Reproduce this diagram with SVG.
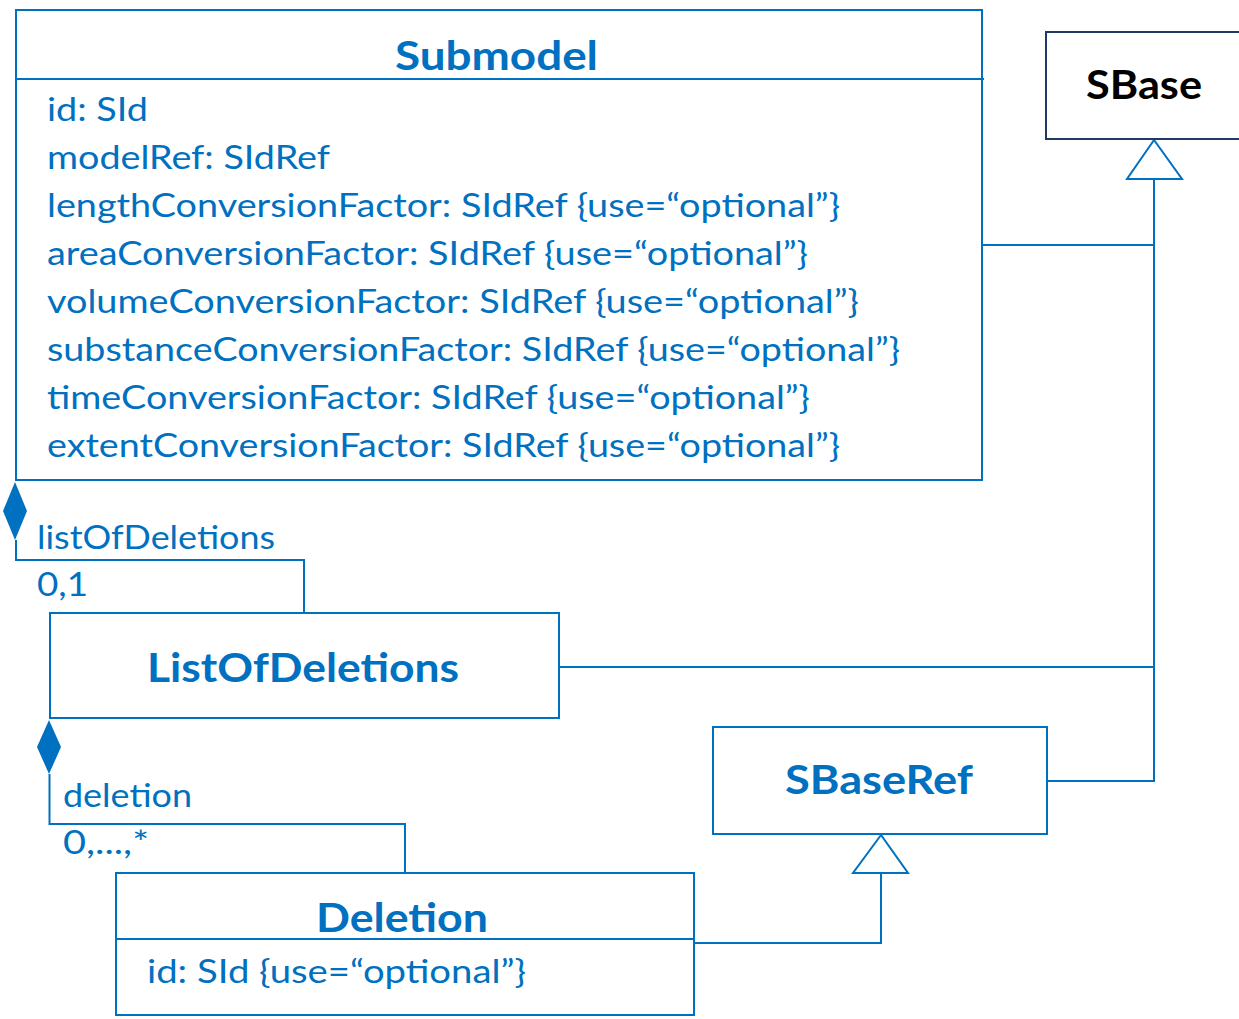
<svg xmlns="http://www.w3.org/2000/svg" width="1239" height="1019" viewBox="0 0 1239 1019">
<style>
.box{fill:#fff;stroke:#0070C0;stroke-width:2}
.line{fill:none;stroke:#0070C0;stroke-width:2}
.gen{fill:#fff;stroke:#0070C0;stroke-width:2}
.comp{fill:#0070C0}
.title{font-family:Lato,"Open Sans",sans-serif;font-weight:bold;fill:#0070C0;font-size:40px}
.attr{font-family:Lato,"Open Sans",sans-serif;fill:#0070C0;font-size:33px}
</style>
<g id="connectors">
  <polyline class="line" points="982,245 1154,245"/>
  <polyline class="line" points="560,667 1154,667"/>
  <polyline class="line" points="1047,781 1154,781 1154,179"/>
  <polygon class="gen" points="1154,140 1127,179 1182,179"/>
  <polyline class="line" points="694,943 881,943 881,873"/>
  <polygon class="gen" points="881,835 853,873 908,873"/>
  <polyline class="line" points="16,540 16,560 304,560 304,613"/>
  <polygon class="comp" points="15,482 27,511 15,540 3,511"/>
  <text class="attr" x="37" y="549" textLength="238" lengthAdjust="spacingAndGlyphs">listOfDeletions</text>
  <text class="attr" x="37" y="596" textLength="51" lengthAdjust="spacingAndGlyphs">0,1</text>
  <polyline class="line" points="49.5,774 49.5,824 405,824 405,873"/>
  <polygon class="comp" points="49,720 61,747 49,774 37,747"/>
  <text class="attr" x="63" y="807" textLength="129" lengthAdjust="spacingAndGlyphs">deletion</text>
  <text class="attr" x="63" y="854" textLength="86" lengthAdjust="spacingAndGlyphs">0,...,*</text>
</g>
<g id="Submodel">
  <rect class="box" x="16" y="10" width="966" height="470"/>
  <line class="line" x1="16" y1="79" x2="984" y2="79"/>
  <text class="title" x="395" y="70" textLength="203" lengthAdjust="spacingAndGlyphs">Submodel</text>
  <text class="attr" x="47" y="121" textLength="101" lengthAdjust="spacingAndGlyphs">id: SId</text>
  <text class="attr" x="47" y="169" textLength="283" lengthAdjust="spacingAndGlyphs">modelRef: SIdRef</text>
  <text class="attr" x="47" y="217" textLength="793" lengthAdjust="spacingAndGlyphs">lengthConversionFactor: SIdRef {use=“optional”}</text>
  <text class="attr" x="47" y="265" textLength="761" lengthAdjust="spacingAndGlyphs">areaConversionFactor: SIdRef {use=“optional”}</text>
  <text class="attr" x="47" y="313" textLength="812" lengthAdjust="spacingAndGlyphs">volumeConversionFactor: SIdRef {use=“optional”}</text>
  <text class="attr" x="47" y="361" textLength="853" lengthAdjust="spacingAndGlyphs">substanceConversionFactor: SIdRef {use=“optional”}</text>
  <text class="attr" x="47" y="409" textLength="763" lengthAdjust="spacingAndGlyphs">timeConversionFactor: SIdRef {use=“optional”}</text>
  <text class="attr" x="47" y="457" textLength="793" lengthAdjust="spacingAndGlyphs">extentConversionFactor: SIdRef {use=“optional”}</text>
</g>
<g id="SBase">
  <rect x="1046" y="32" width="200" height="107" fill="#fff" stroke="#203864" stroke-width="2"/>
  <text class="title" x="1086" y="99" textLength="116" lengthAdjust="spacingAndGlyphs" style="fill:#000">SBase</text>
</g>
<g id="ListOfDeletions">
  <rect class="box" x="50" y="613" width="509" height="105"/>
  <text class="title" x="147" y="682" textLength="312" lengthAdjust="spacingAndGlyphs">ListOfDeletions</text>
</g>
<g id="SBaseRef">
  <rect class="box" x="713" y="727" width="334" height="107"/>
  <text class="title" x="785" y="794" textLength="188" lengthAdjust="spacingAndGlyphs">SBaseRef</text>
</g>
<g id="Deletion">
  <rect class="box" x="116" y="873" width="578" height="142"/>
  <line class="line" x1="116" y1="939" x2="694" y2="939"/>
  <text class="title" x="316" y="932" textLength="172" lengthAdjust="spacingAndGlyphs">Deletion</text>
  <text class="attr" x="147" y="983" textLength="379" lengthAdjust="spacingAndGlyphs">id: SId {use=“optional”}</text>
</g>
</svg>
